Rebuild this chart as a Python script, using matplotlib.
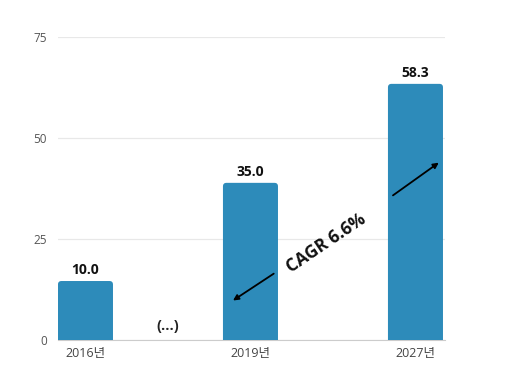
import matplotlib.pyplot as plt
from matplotlib.patches import FancyBboxPatch

plt.rcParams['font.family'] = ['Open Sans', 'Noto Sans CJK KR', 'DejaVu Sans']

# data
positions = [0, 2, 4]
years = ['2016년', '2019년', '2027년']
bar_heights = [14.6, 38.9, 63.4]
value_labels = ['10.0', '35.0', '58.3']
cagr_text = 'CAGR 6.6%'
bar_color = '#2d8bba'

fig = plt.figure(figsize=(5.08, 3.9), dpi=100)
ax = fig.add_axes([58 / 508, 50 / 390, 387 / 508, 303 / 390])
ax.set_xlim(-0.333, 4.358)
ax.set_ylim(0, 75)

bars = ax.bar(positions, bar_heights, width=0.667, color=bar_color, zorder=3)

# swap the plain bars for ones with slightly rounded tops
px_x = 387 / (4.358 + 0.333)   # pixels per x unit
px_y = 303 / 75                # pixels per y unit
for b in bars:
    b.set_visible(False)
    rb = FancyBboxPatch((b.get_x(), -1), b.get_width(), b.get_height() + 1,
                        boxstyle='round,pad=0,rounding_size=%f' % (3.5 / px_x),
                        mutation_aspect=px_x / px_y, fc=bar_color, ec='none',
                        zorder=3, clip_on=True)
    ax.add_patch(rb)

for x, h, lab in zip(positions, bar_heights, value_labels):
    ax.annotate(lab, (x, h), xytext=(0, 3), textcoords='offset points',
                ha='center', va='bottom', fontsize=10, fontweight='bold',
                color='#111111')

# gap marker between 2016 and 2019
ax.text(1, 3.5, '(...)', ha='center', va='center', fontsize=10.5,
        fontweight='bold', color='#222222')

# CAGR arrows and label
arrow = dict(arrowstyle='-|>', color='black', lw=1.3, mutation_scale=8)
ax.annotate('', xy=(1.76, 9.4), xytext=(2.31, 16.8), arrowprops=arrow, zorder=5)
ax.annotate('', xy=(4.31, 44.3), xytext=(3.70, 35.4), arrowprops=arrow, zorder=5)
ax.text(2.92, 24.0, cagr_text, rotation=34, ha='center', va='center',
        fontsize=12.5, fontweight='bold', color='#111111', zorder=5)

ax.set_yticks([0, 25, 50, 75])
ax.set_xticks(positions)
ax.set_xticklabels(years)

ax.grid(axis='y', color='#e8e8e8', lw=0.9, zorder=0)
for s in ['top', 'right', 'left']:
    ax.spines[s].set_visible(False)
ax.spines['bottom'].set_color('#cccccc')
ax.tick_params(axis='y', length=0, pad=8, labelsize=8.5, labelcolor='#555555')
ax.tick_params(axis='x', length=0, pad=5, labelsize=9, labelcolor='#444444')

fig.savefig('out.png', dpi=100)
